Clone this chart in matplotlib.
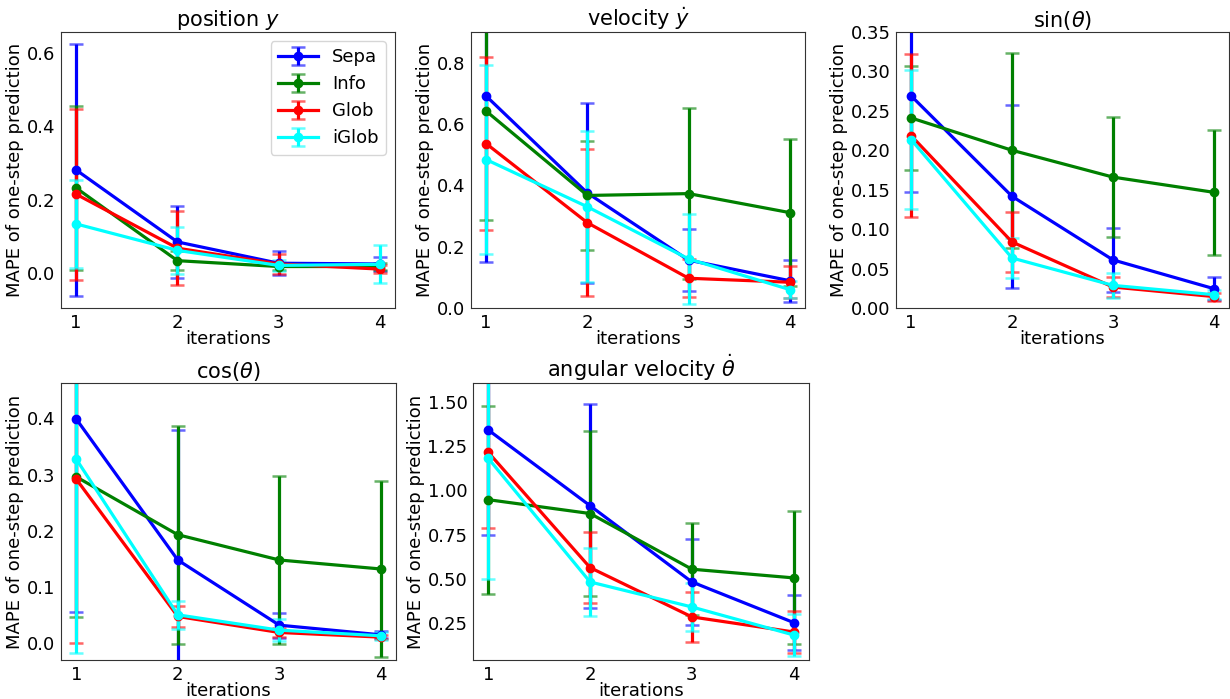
import matplotlib
matplotlib.use("Agg")
import matplotlib.pyplot as plt

iterations = [1, 2, 3, 4]
methods = ["Sepa", "Info", "Glob", "iGlob"]
colors = ["blue", "green", "red", "cyan"]

titles = ["position $y$", "velocity $\\dot{y}$", "sin($\\theta$)", "cos($\\theta$)",
          "angular velocity $\\dot{\\theta}$"]

# position y
pos_mean = {"Sepa": [0.281, 0.085, 0.027, 0.025], "Info": [0.232, 0.034, 0.018, 0.018],
            "Glob": [0.215, 0.068, 0.025, 0.011], "iGlob": [0.134, 0.062, 0.021, 0.024]}
pos_err = {"Sepa": [0.343, 0.097, 0.032, 0.020], "Info": [0.223, 0.025, 0.010, 0.010],
           "Glob": [0.233, 0.100, 0.028, 0.010], "iGlob": [0.119, 0.064, 0.015, 0.052]}
# velocity y dot
vel_mean = {"Sepa": [0.691, 0.375, 0.156, 0.089], "Info": [0.642, 0.367, 0.373, 0.311],
            "Glob": [0.536, 0.278, 0.097, 0.084], "iGlob": [0.484, 0.330, 0.160, 0.060]}
vel_err = {"Sepa": [0.541, 0.293, 0.100, 0.068], "Info": [0.354, 0.178, 0.279, 0.239],
           "Glob": [0.283, 0.240, 0.062, 0.052], "iGlob": [0.309, 0.246, 0.148, 0.027]}
# sin theta
sin_mean = {"Sepa": [0.269, 0.1416, 0.061, 0.0245], "Info": [0.241, 0.200, 0.166, 0.1467],
            "Glob": [0.2185, 0.0837, 0.0266, 0.0145], "iGlob": [0.2135, 0.0634, 0.0287, 0.0169]}
sin_err = {"Sepa": [0.122, 0.116, 0.041, 0.0145], "Info": [0.066, 0.124, 0.076, 0.079],
           "Glob": [0.103, 0.038, 0.013, 0.005], "iGlob": [0.088, 0.025, 0.0155, 0.006]}
# cos theta
cos_mean = {"Sepa": [0.399, 0.148, 0.032, 0.0148], "Info": [0.296, 0.193, 0.148, 0.132],
            "Glob": [0.292, 0.0475, 0.019, 0.0107], "iGlob": [0.3276, 0.0504, 0.0231, 0.0131]}
cos_err = {"Sepa": [0.344, 0.232, 0.022, 0.006], "Info": [0.249, 0.194, 0.150, 0.156],
           "Glob": [0.292, 0.019, 0.008, 0.004], "iGlob": [0.345, 0.025, 0.020, 0.007]}
# angular velocity
ang_mean = {"Sepa": [1.340, 0.913, 0.483, 0.254], "Info": [0.947, 0.869, 0.555, 0.506],
            "Glob": [1.214, 0.564, 0.286, 0.201], "iGlob": [1.180, 0.483, 0.342, 0.184]}
ang_err = {"Sepa": [0.591, 0.575, 0.245, 0.153], "Info": [0.530, 0.467, 0.260, 0.375],
           "Glob": [0.427, 0.200, 0.143, 0.117], "iGlob": [0.680, 0.192, 0.135, 0.120]}

means = [pos_mean, vel_mean, sin_mean, cos_mean, ang_mean]
errs = [pos_err, vel_err, sin_err, cos_err, ang_err]
ylims = [(-0.095, 0.657), (0.0, 0.9), (0.0, 0.35), (-0.03, 0.463), (0.043, 1.605)]
yticks = [[0.0, 0.2, 0.4, 0.6], [0.0, 0.2, 0.4, 0.6, 0.8],
          [0.0, 0.05, 0.10, 0.15, 0.20, 0.25, 0.30, 0.35],
          [0.0, 0.1, 0.2, 0.3, 0.4], [0.25, 0.50, 0.75, 1.00, 1.25, 1.50]]
yfmt = ["%.1f", "%.1f", "%.2f", "%.1f", "%.2f"]

W, H = 1230, 699
boxes = [(61, 32, 395, 308), (471, 32, 805, 308), (896, 32, 1229, 308),
         (61, 383, 396, 660), (473, 383, 809, 660)]

fig = plt.figure(figsize=(12.3, 6.99), dpi=100)
for i in range(5):
    l, t, r, b = boxes[i]
    ax = fig.add_axes([l / W, 1 - b / H, (r - l) / W, (b - t) / H])
    for m, c in zip(methods, colors):
        eb = ax.errorbar(iterations, means[i][m], yerr=errs[i][m], color=c, lw=2.3,
                         marker="o", ms=6, capsize=5, capthick=1.8, elinewidth=2.3,
                         label=m)
        for cap in eb[1]:
            cap.set_alpha(0.6)
    ax.set_xticks(iterations)
    ax.set_xlim(0.85, 4.15)
    ax.set_ylim(*ylims[i])
    ax.set_yticks(yticks[i])
    ax.set_yticklabels([yfmt[i] % v for v in yticks[i]])
    ax.tick_params(labelsize=13, length=0, pad=4)
    ax.set_xlabel("iterations", fontsize=13, labelpad=-1)
    ax.set_ylabel("MAPE of one-step prediction", fontsize=13, labelpad=2)
    ax.set_title(titles[i], fontsize=15, pad=3)
    for s in ax.spines.values():
        s.set_color("#333333")
    if i == 0:
        ax.legend(loc="upper right", fontsize=13, handlelength=2.2)

fig.savefig("out.png", dpi=100)
